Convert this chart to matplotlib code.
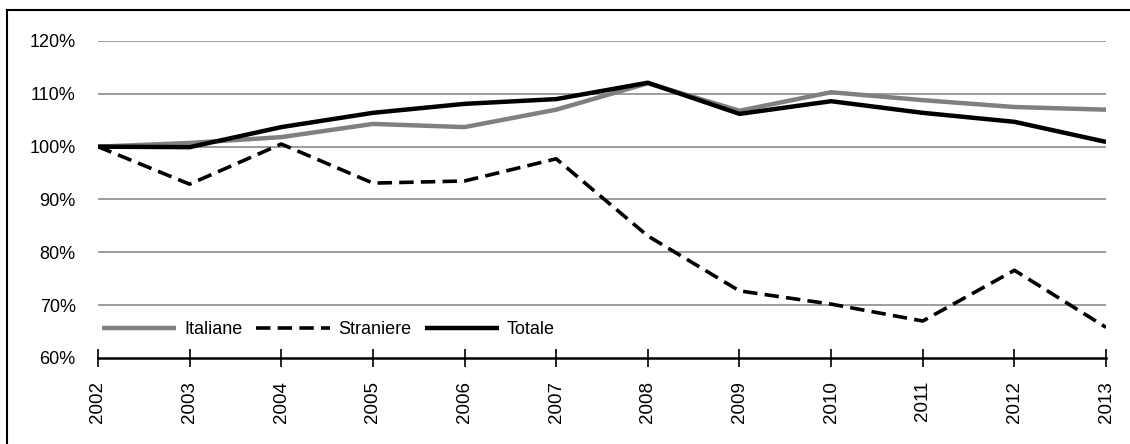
import matplotlib
matplotlib.use("Agg")
import matplotlib.pyplot as plt
from matplotlib import font_manager
from matplotlib.lines import Line2D
from matplotlib.ticker import FuncFormatter

# data (index, 2002 = 100%)
years = [2002, 2003, 2004, 2005, 2006, 2007, 2008, 2009, 2010, 2011, 2012, 2013]
italiane = [100.0, 100.7, 101.8, 104.3, 103.7, 107.0, 112.0, 106.8, 110.3, 108.8, 107.5, 107.0]
straniere = [100.0, 92.9, 100.5, 93.1, 93.5, 97.7, 83.1, 72.7, 70.2, 67.0, 76.6, 65.8]
totale = [100.0, 99.9, 103.7, 106.4, 108.1, 109.0, 112.1, 106.2, 108.6, 106.4, 104.7, 100.9]
y_ticks = [60, 70, 80, 90, 100, 110, 120]

names = {f.name for f in font_manager.fontManager.ttflist}
family = "Liberation Sans Narrow" if "Liberation Sans Narrow" in names else "Liberation Sans"
plt.rcParams["font.family"] = [family, "DejaVu Sans"]
plt.rcParams["font.size"] = 12.5

fig = plt.figure(figsize=(11.3, 4.44), dpi=100)
ax = fig.add_axes([0.0867, 0.1937, 0.8921, 0.714])

ax.plot(years, italiane, color="#808080", lw=3.2, label="Italiane", solid_capstyle="butt")
ax.plot(years, straniere, color="black", lw=2.6, ls=(0, (4, 2)), label="Straniere")
ax.plot(years, totale, color="black", lw=3.2, label="Totale", solid_capstyle="butt")

ax.set_xlim(2002, 2013)
ax.set_ylim(60, 120)
ax.set_yticks(y_ticks)
ax.yaxis.set_major_formatter(FuncFormatter(lambda v, p: f"{v:.0f}%"))
ax.set_xticks(years)
ax.set_xticklabels([str(y) for y in years], rotation=90, fontsize=13.5)

for v in y_ticks[1:]:
    ax.axhline(v, color="#8c8c8c", lw=1.2, zorder=0)

for s in ["top", "right", "left"]:
    ax.spines[s].set_visible(False)
ax.spines["bottom"].set_linewidth(1.8)
ax.tick_params(axis="y", length=0, pad=16, labelsize=13)
ax.tick_params(axis="x", direction="inout", length=13, width=1.2, pad=10)

ax.legend(loc="lower left", bbox_to_anchor=(-0.003, 0.04), ncol=3, frameon=False,
          handlelength=4.1, handletextpad=0.45, columnspacing=0.75, borderaxespad=0,
          fontsize=13)

# outer frame (left and top edges visible in the reference)
fig.add_artist(Line2D([0.0066, 0.0066], [0, 0.9775], color="black", lw=1.5))
fig.add_artist(Line2D([0.0066, 1.0], [0.9775, 0.9775], color="black", lw=1.5))

fig.savefig("out.png", dpi=100)
